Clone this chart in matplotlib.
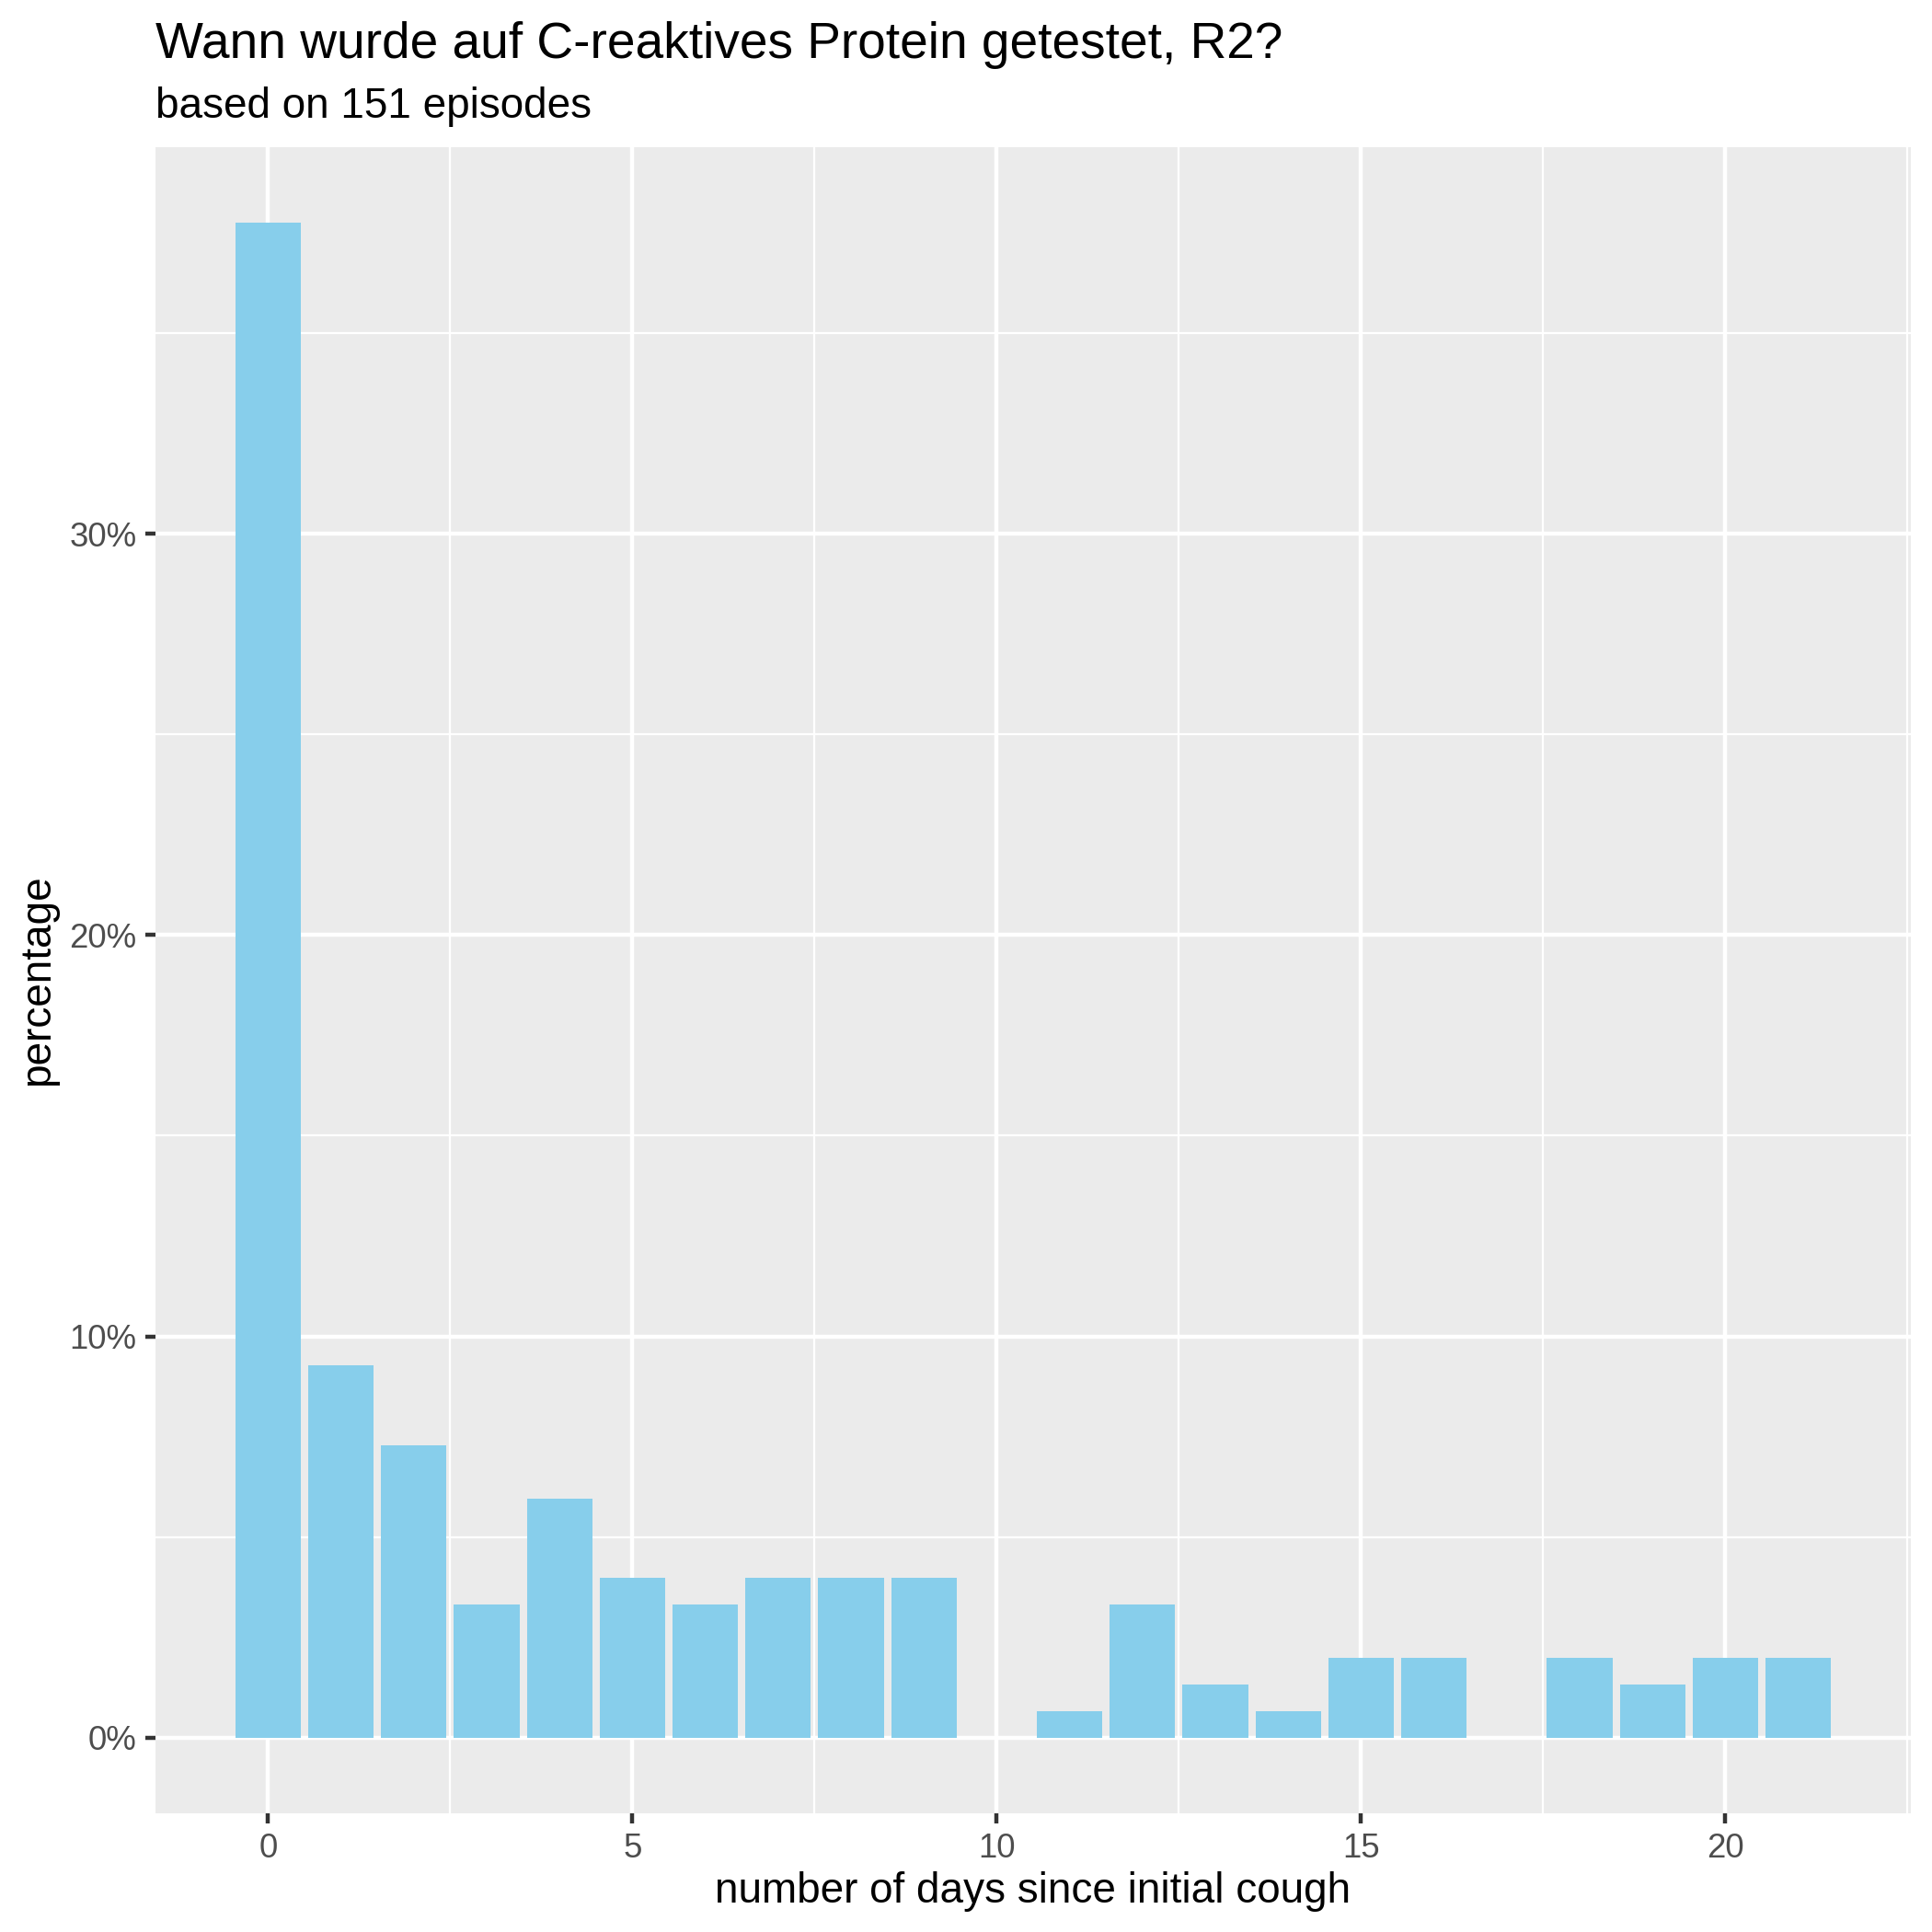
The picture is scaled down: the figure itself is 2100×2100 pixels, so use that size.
import matplotlib
matplotlib.use("Agg")
import matplotlib.pyplot as plt
import numpy as np
from matplotlib.ticker import FixedLocator

plt.rcParams['font.family'] = ['Liberation Sans', 'DejaVu Sans']

# Data: number of days since initial cough -> number of episodes (of 151)
days = list(range(0, 22))
counts = [57, 14, 11, 5, 9, 6, 5, 6, 6, 6, 0, 1, 5, 2, 1, 3, 3, 0, 3, 2, 3, 3]
total_episodes = 151
title = "Wann wurde auf C-reaktives Protein getestet, R2?"
subtitle = "based on 151 episodes"
xlabel = "number of days since initial cough"
ylabel = "percentage"
x_ticks = [0, 5, 10, 15, 20]
y_ticks = [0, 10, 20, 30]
y_ticklabels = ["0%", "10%", "20%", "30%"]

pct = [c / total_episodes * 100 for c in counts]

W = 2100.0
fig = plt.figure(figsize=(7, 7), dpi=300)
left, right, top, bottom = 169, 2077, 160, 1971
ax = fig.add_axes([left / W, 1 - bottom / W, (right - left) / W, (bottom - top) / W])
ax.set_facecolor("#EBEBEB")

ax.bar(days, pct, width=0.9, color="#87CEEB", zorder=3)

xmin, xmax = -0.45, 21.45
xr = xmax - xmin
ax.set_xlim(xmin - 0.05 * xr, xmax + 0.05 * xr)
ymax = max(pct)
ax.set_ylim(-0.05 * ymax, ymax * 1.05)

ax.xaxis.set_major_locator(FixedLocator(x_ticks))
ax.xaxis.set_minor_locator(FixedLocator([-2.5, 2.5, 7.5, 12.5, 17.5, 22.5]))
ax.yaxis.set_major_locator(FixedLocator(y_ticks))
ax.yaxis.set_minor_locator(FixedLocator([5, 15, 25, 35]))
ax.set_yticklabels(y_ticklabels)

ax.grid(which='major', color='white', linewidth=1.07, zorder=1)
ax.grid(which='minor', color='white', linewidth=0.53, zorder=1)
ax.set_axisbelow(True)

for s in ax.spines.values():
    s.set_visible(False)

ax.tick_params(which='major', length=2.75, width=1.07, color='#333333',
               labelsize=8.8, labelcolor='#4D4D4D', pad=2.2)
ax.tick_params(which='minor', length=0)

fig.text(left / W, 1 - 63 / W, title, fontsize=13.2, ha='left', va='baseline', color='black')
fig.text(left / W, 1 - 128 / W, subtitle, fontsize=11, ha='left', va='baseline', color='black')
fig.text((left + right) / 2 / W, 1 - 2068 / W, xlabel, fontsize=11, ha='center', va='baseline', color='black')
fig.text(53 / W, 1 - (top + bottom) / 2 / W, ylabel, fontsize=11, ha='center', va='baseline',
         rotation=90, rotation_mode='anchor', color='black')

fig.savefig("out.png", dpi=300, facecolor='white')
